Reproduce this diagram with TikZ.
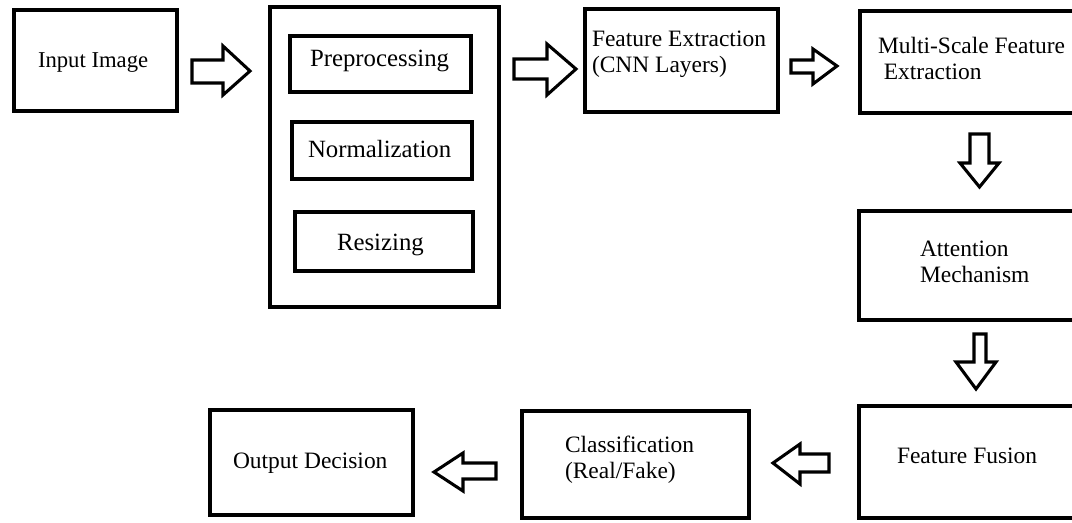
\documentclass[tikz,border=0pt]{standalone}
\usepackage{fontspec}
\setmainfont{Liberation Serif}
\begin{document}
\begin{tikzpicture}[x=0.75pt,y=-0.75pt,
  box/.style={draw=black, line width=3.7pt, inner sep=0pt, outer sep=0pt, fill=white},
  blockarr/.style={draw=black, line width=2.3pt, line join=miter, fill=white},
  txt/.style={anchor=base west, inner sep=0pt, outer sep=0pt, align=left,
    font=\fontsize{17.6}{19.5}\selectfont},
  txtb/.style={txt, font=\fontsize{18.6}{20}\selectfont}]
\clip (0,0) rectangle (1072,522);
\fill[white] (0,0) rectangle (1072,522);

% boxes
\node[box, minimum width=122.25pt, minimum height=75.75pt] (inp) at (95.5,60.5) {};
\node[box, minimum width=171.75pt, minimum height=225pt] (pp) at (384.5,157) {};
\node[box, minimum width=135.75pt, minimum height=42pt] (pre) at (380.5,64) {};
\node[box, minimum width=135pt, minimum height=42.75pt] (norm) at (382,150.5) {};
\node[box, minimum width=133.5pt, minimum height=44.25pt] (res) at (384,241.5) {};
\node[box, minimum width=144.75pt, minimum height=77.25pt] (fe) at (681.5,60.5) {};
\node[box, minimum width=172.5pt, minimum height=76.5pt] (ms) at (975,62) {};
\node[box, minimum width=173.25pt, minimum height=81.75pt] (att) at (974.5,265.5) {};
\node[box, minimum width=173.25pt, minimum height=84pt] (ff) at (974.5,462) {};
\node[box, minimum width=170.25pt, minimum height=80.25pt] (cls) at (635.5,464.5) {};
\node[box, minimum width=152.25pt, minimum height=78.75pt] (out) at (311.5,462.5) {};

% texts (multi-line nodes: base anchor is the last line's baseline)
\node[txt, font=\fontsize{17}{19}\selectfont] (tinp) at (38,67) {Input Image};
\node[txtb] (tpre) at (310,66) {Preprocessing};
\node[txtb] (tnorm) at (308,157) {Normalization};
\node[txtb] (tres) at (337,250) {Resizing};
\node[txt] (tfe) at (592,72) {Feature Extraction\\(CNN Layers)};
\node[txt] (tms) at (878,79) {Multi-Scale Feature\\\hspace*{0.25em}Extraction};
\node[txt] (tatt) at (920,282) {Attention\\Mechanism};
\node[txt] (tff) at (897,463) {Feature Fusion};
\node[txt] (tcls) at (565,478) {Classification\\(Real/Fake)};
\node[txt] (tout) at (233,468) {Output Decision};

% block arrows
\draw[blockarr] (192,60) -- (223,60) -- (223,46) -- (250,71) -- (223,95) -- (223,83) -- (192,83) -- cycle;
\draw[blockarr] (514,59) -- (547,59) -- (547,44) -- (576,69) -- (547,95) -- (547,79) -- (514,79) -- cycle;
\draw[blockarr] (791,60) -- (813,60) -- (813,49) -- (837,66) -- (813,84) -- (813,73) -- (791,73) -- cycle;
\draw[blockarr] (970,134) -- (989,134) -- (989,163) -- (999,163) -- (979.5,187) -- (960,163) -- (970,163) -- cycle;
\draw[blockarr] (974,334) -- (986,334) -- (986,362) -- (996,362) -- (976,389) -- (956,362) -- (974,362) -- cycle;
\draw[blockarr] (829,454) -- (800,454) -- (800,444) -- (773,463) -- (800,484) -- (800,472) -- (829,472) -- cycle;
\draw[blockarr] (496,463) -- (463,463) -- (463,453) -- (434,472) -- (463,491) -- (463,479) -- (496,479) -- cycle;
\end{tikzpicture}
\end{document}
